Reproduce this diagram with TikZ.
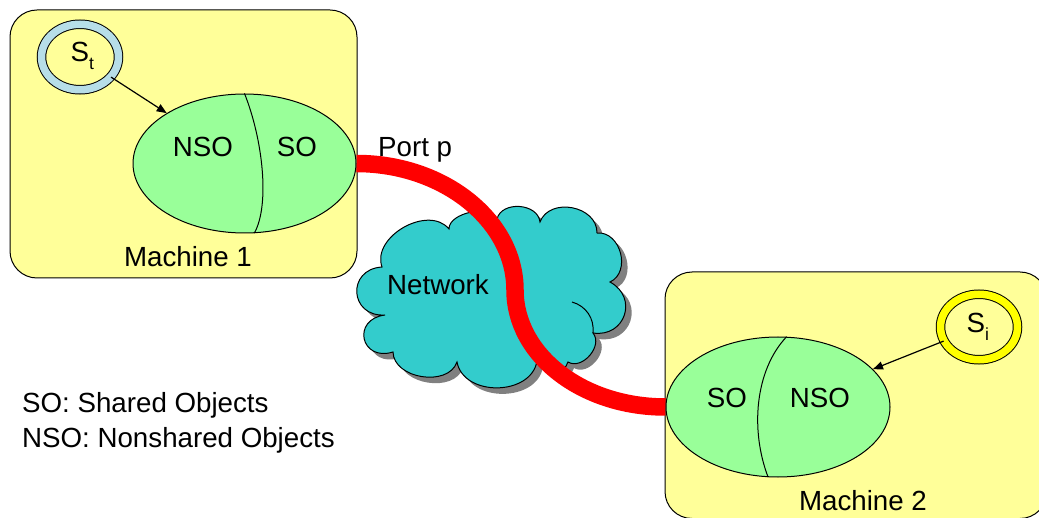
\documentclass[tikz,border=0pt]{standalone}
\usepackage{fontspec}
\setmainfont{Liberation Sans}
\usetikzlibrary{shapes.geometric,arrows.meta}
\pgfdeclarelayer{bg}
\pgfsetlayers{bg,main}
\definecolor{boxyellow}{HTML}{FFFF99}
\definecolor{objgreen}{HTML}{99FF99}
\definecolor{netcyan}{HTML}{33CCCC}
\definecolor{ringblue}{HTML}{B7DEE8}
\definecolor{ringyellow}{HTML}{FFFF00}
\definecolor{shadowgray}{HTML}{808080}
\definecolor{portred}{HTML}{FF0000}
\newcommand\cloudoutline[1]{%
  \path[#1] (382,267) to[bump={80}{1.07}] (449,229)
    to[bump={80}{0.85}] (497,219)
    to[bump={80}{1.13}] (540,222)
    to[bump={80}{1.2}] (597,233)
    to[bump={80}{1.2}] (610,282)
    to[bump={80}{1.55}] (593,333)
    to[bump={80}{1.1}] (568,362)
    to[bump={80}{1.1}] (537,361)
    to[bump={80}{1.14}] (457,362)
    to[bump={80}{1.06}] (393,352)
    to[bump={95}{2.3}] (385,315)
    to[bump={90}{1.9}] (382,267) -- cycle;}
\newcommand\subtxt[1]{\raisebox{-8pt}{\fontsize{17.5}{20}\selectfont #1}}
\begin{document}
\begin{tikzpicture}[x=1pt,y=-1pt,
  lbl/.style={font=\fontsize{27.7}{33}\selectfont, inner sep=0pt, anchor=base},
  machine/.style={draw=black, line width=1pt, fill=boxyellow, rounded corners=27pt, inner sep=0pt},
  objs/.style={ellipse, draw=black, line width=1pt, fill=objgreen, inner sep=0pt},
  ring/.style={ellipse, draw=black, line width=1pt, double=#1, double distance=7.5pt,
    fill=boxyellow, minimum width=77pt, minimum height=65.5pt, inner sep=0pt},
  divider/.style={draw=black, line width=1pt},
  ptr/.style={draw=black, line width=1.2pt, -{Triangle[length=10pt,width=8pt]}},
  link/.style={draw=portred, line width=17.5pt},
  bump/.style 2 args={bend left=#1, looseness=#2},
  crease/.style={draw=black, line width=1pt},
  ]
\useasboundingbox (0,0) rectangle (1039,518);
% object ellipses
\node[objs, minimum width=223pt, minimum height=139pt] (e1) at (244.5,163.5) {};
\node[objs, minimum width=224pt, minimum height=140pt] (e2) at (778,407) {};
\draw[divider] (e1.north) .. controls (263,140) and (270,205) .. (e1.-82);
\draw[divider] (e2.83.5) .. controls (755,370) and (750,430) .. (e2.-98);
% threads
\node[ring=ringblue] (st) at (80,57) {};
\node[ring=ringyellow] (si) at (979,327) {};
\node[lbl, anchor=base west] (stlbl) at (70.5,62) {S\subtxt{t}};
\node[lbl, anchor=base west] (silbl) at (966.5,333) {S\subtxt{i}};
\draw[ptr] (st) -- (e1);
\draw[ptr] (si) -- (e2);
% labels
\node[lbl] (nso1) at (203,157) {NSO};
\node[lbl] (so1) at (297,157) {SO};
\node[lbl] (so2) at (727,408) {SO};
\node[lbl] (nso2) at (820,408) {NSO};
\node[lbl] (mach1) at (188,267) {Machine 1};
\node[lbl] (mach2) at (863,510) {Machine 2};
\node[lbl, anchor=base west] (net) at (387,295) {Network};
\node[lbl, anchor=base west] (port) at (378,157) {Port p};
\node[lbl, anchor=base west] (leg1) at (22,413) {SO: Shared Objects};
\node[lbl, anchor=base west] (leg2) at (22,447) {NSO: Nonshared Objects};
\coordinate (bendpt) at (515,290);
\begin{pgfonlayer}{bg}
\node[machine, minimum width=347pt, minimum height=268pt] (m1) at (183.5,144) {};
\node[machine, minimum width=382pt, minimum height=246.5pt] (m2) at (856,395.25) {};
\begin{scope}[shift={(6,6)}]
\cloudoutline{fill=shadowgray}
\end{scope}
\cloudoutline{fill=netcyan, draw=black, line width=1pt}
\draw[crease] (572,302) to[bend left=40] (593,333);
\draw[link] (e1.east) .. controls (444,163.5) and (515,221) .. (bendpt)
  .. controls (515,355) and (582,407) .. (e2.west);
\end{pgfonlayer}
\end{tikzpicture}
\end{document}
